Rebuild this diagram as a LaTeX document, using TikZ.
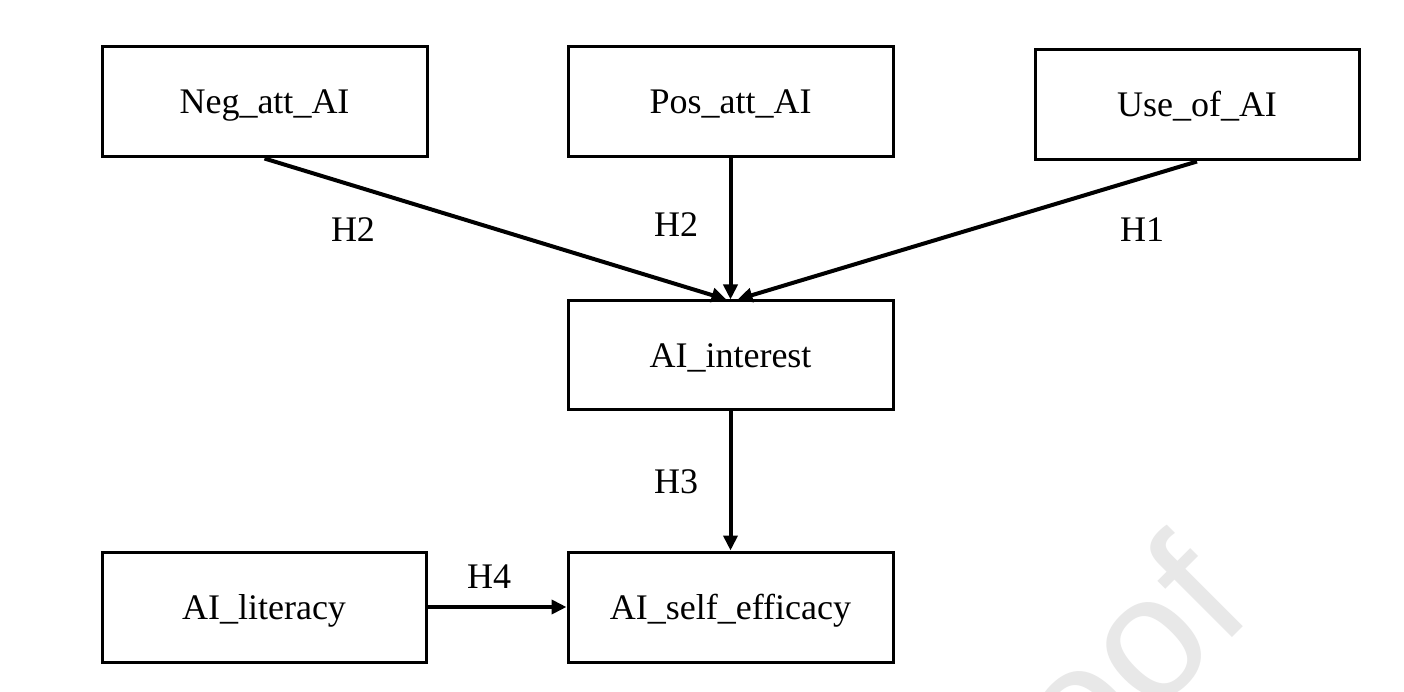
\documentclass[tikz,border=0pt]{standalone}
\usepackage{fontspec}
\setmainfont{Liberation Serif}[Ligatures={NoCommon}]
\newfontfamily\wmfont{Liberation Sans}
\usetikzlibrary{arrows.meta,calc}
\begin{document}
\begin{tikzpicture}[x=1pt,y=-1pt,
  box/.style={draw, line width=3pt, minimum width=325pt, minimum height=110pt,
    inner sep=0pt, text height=24pt, text depth=0pt, font=\fontsize{36}{40}\selectfont},
  link/.style={line width=4pt, -{Triangle[length=15pt,width=14pt]}},
  lab/.style={inner sep=0pt, font=\fontsize{36}{40}\selectfont},
  watermark/.style={rotate=45, anchor=base east, inner sep=0pt, text=black!9,
    font=\wmfont\fontsize{175}{180}\selectfont}]
\useasboundingbox (0,0) rectangle (1404,692);
\fill[white] (0,0) rectangle (1404,692);
\begin{scope}
  \clip (0,0) rectangle (1404,692);
  \node[watermark] (wm) at (1256,614) {oof};
\end{scope}

\node[box] (neg) at (264.5,102) {Neg\_att\_AI};
\node[box] (pos) at (730.5,102) {Pos\_att\_AI};
\node[box, minimum width=324pt] (use) at (1197,105) {Use\_of\_AI};
\node[box, minimum height=108pt] (int) at (730.5,355) {AI\_interest};
\node[box] (eff) at (730.5,607) {AI\_self\_efficacy};
\node[box, minimum width=324pt] (lit) at (264,607) {AI\_literacy};

\coordinate (tneg) at ($(int.north)+(-4,0)$);
\coordinate (tuse) at ($(int.north)+(7,0)$);

\draw[link] (neg.south) -- (tneg);
\draw[link] (pos.south) -- (int.north);
\draw[link] (use.south) -- (tuse);
\draw[link] (int.south) -- (eff.north);
\draw[link] (lit.east) -- (eff.west);

\node[lab] (h2a) at (353,230) {H2};
\node[lab] (h2b) at (676,225) {H2};
\node[lab] (h1) at (1142,230) {H1};
\node[lab] (h3) at (676,482) {H3};
\node[lab] (h4) at (489,577) {H4};
\end{tikzpicture}
\end{document}
